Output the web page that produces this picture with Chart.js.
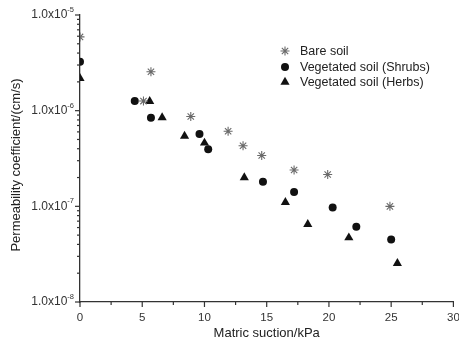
<!DOCTYPE html>
<html>
<head>
<meta charset="utf-8">
<script src="https://cdn.jsdelivr.net/npm/chart.js@4/dist/chart.umd.min.js"></script>
<style>
    body { margin: 0; background: #fff; }
    #wrap { width: 459px; height: 350px; }
</style>
</head>
<body>
<div id="wrap"><canvas id="chart" width="459" height="350"></canvas></div>
<script>
// DATA
const bareX = [0, 5.7, 5.1, 8.9, 11.9, 13.1, 14.6, 17.2, 19.9, 24.9];
const bareY = [5.9e-6, 2.55e-6, 1.26e-6, 8.7e-7, 6.1e-7, 4.3e-7, 3.4e-7, 2.4e-7, 2.15e-7, 1.0e-7];

const shrubX = [0, 4.4, 5.7, 9.6, 10.3, 14.7, 17.2, 20.3, 22.2, 25.0];
const shrubY = [3.25e-6, 1.26e-6, 8.45e-7, 5.7e-7, 3.95e-7, 1.81e-7, 1.41e-7, 9.7e-8, 6.1e-8, 4.5e-8];

const herbX = [0, 5.6, 6.6, 8.4, 10.0, 13.2, 16.5, 18.3, 21.6, 25.5];
const herbY = [2.18e-6, 1.25e-6, 8.45e-7, 5.43e-7, 4.6e-7, 2.0e-7, 1.1e-7, 6.5e-8, 4.7e-8, 2.54e-8];

const seriesNames = ['Bare soil', 'Vegetated soil (Shrubs)', 'Vegetated soil (Herbs)'];
const xTicks = [0, 5, 10, 15, 20, 25, 30];
const yDecades = [-8, -7, -6, -5];

const FONT = '"Liberation Sans", Arial, sans-serif';
const AXIS = '#333';

function toPoints(xs, ys) {
    return xs.map((x, i) => ({ x: x, y: ys[i] }));
}

const styles = [
    { pointStyle: 'star', color: '#6a6a6a', radius: 4.5, border: 1.1 },
    { pointStyle: 'circle', color: '#111', radius: 4, border: 0 },
    { pointStyle: 'triangle', color: '#111', radius: 5.3, border: 0 }
];

// TICKS, LABELS AND LEGEND
const decorPlugin = {
    id: 'decor',
    afterDraw(chart) {
        const ctx = chart.ctx;
        const xs = chart.scales.x;
        const ys = chart.scales.y;
        const area = chart.chartArea;
        ctx.save();
        ctx.strokeStyle = AXIS;
        ctx.lineWidth = 1.2;

        // x ticks
        for (let v = 0; v <= 30; v += 2.5) {
            const px = xs.getPixelForValue(v);
            const len = (v % 5 === 0) ? 5 : 3;
            ctx.beginPath();
            ctx.moveTo(px, area.bottom);
            ctx.lineTo(px, area.bottom + len);
            ctx.stroke();
        }
        ctx.fillStyle = AXIS;
        ctx.font = '11.5px ' + FONT;
        ctx.textAlign = 'center';
        ctx.textBaseline = 'middle';
        xTicks.forEach(v => {
            ctx.fillText(String(v), xs.getPixelForValue(v), area.bottom + 16);
        });

        // y ticks
        yDecades.forEach(d => {
            const base = Math.pow(10, d);
            const py = ys.getPixelForValue(base);
            ctx.beginPath();
            ctx.moveTo(area.left - 5, py);
            ctx.lineTo(area.left, py);
            ctx.stroke();
            if (d < -5) {
                for (let m = 2; m <= 9; m++) {
                    const my = ys.getPixelForValue(m * base);
                    ctx.beginPath();
                    ctx.moveTo(area.left - 3, my);
                    ctx.lineTo(area.left, my);
                    ctx.stroke();
                }
            }
            const sup = String(d);
            ctx.font = '7.5px ' + FONT;
            const supW = ctx.measureText(sup).width;
            const right = area.left - 6;
            ctx.textAlign = 'right';
            ctx.fillText(sup, right, py - 5);
            ctx.font = '12px ' + FONT;
            ctx.fillText('1.0x10', right - supW, py);
        });

        // y title
        ctx.save();
        ctx.translate(16, 165);
        ctx.rotate(-Math.PI / 2);
        ctx.font = '13px ' + FONT;
        ctx.fillStyle = '#222';
        ctx.textAlign = 'center';
        ctx.fillText('Permeability coefficient/(cm/s)', 0, 0);
        ctx.restore();

        // legend
        const lx = 285;
        const rows = [51, 67, 82];
        ctx.font = '12.5px ' + FONT;
        ctx.textAlign = 'left';
        seriesNames.forEach((name, i) => {
            const s = styles[i];
            Chart.helpers.drawPoint(ctx, {
                pointStyle: s.pointStyle,
                radius: s.radius,
                borderWidth: s.border,
                rotation: 0
            }, lx, rows[i]);
            ctx.fillStyle = '#222';
            ctx.fillText(name, 300, rows[i] + 0.5);
        });
        ctx.restore();
    }
};

// Chart.helpers.drawPoint uses ctx fill/stroke state, so wrap to set colours
const origDrawPoint = Chart.helpers.drawPoint;
Chart.helpers.drawPoint = function (ctx, opts, x, y) {
    const s = styles.find(t => t.pointStyle === opts.pointStyle);
    if (s) {
        ctx.fillStyle = s.color;
        ctx.strokeStyle = s.color;
        ctx.lineWidth = s.border || 1;
    }
    return origDrawPoint(ctx, opts, x, y);
};

const datasets = [
    toPoints(bareX, bareY),
    toPoints(shrubX, shrubY),
    toPoints(herbX, herbY)
].map((data, i) => ({
    label: seriesNames[i],
    data: data,
    showLine: false,
    pointStyle: styles[i].pointStyle,
    pointRadius: styles[i].radius,
    backgroundColor: styles[i].color,
    borderColor: styles[i].color,
    pointBorderWidth: styles[i].border
}));

const chart = new Chart(document.getElementById('chart'), {
    type: 'scatter',
    data: { datasets: datasets },
    options: {
        responsive: false,
        animation: false,
        devicePixelRatio: 1,
        layout: { padding: { top: 15, right: 3, left: 0, bottom: 0 } },
        plugins: {
            legend: { display: false },
            tooltip: { enabled: false }
        },
        scales: {
            x: {
                type: 'linear',
                min: 0,
                max: 30,
                grid: { display: false },
                border: { display: true, color: AXIS, width: 1.3 },
                ticks: { display: false, stepSize: 5 },
                title: {
                    display: true,
                    text: 'Matric suction/kPa',
                    color: '#222',
                    font: { family: FONT, size: 13 },
                    padding: { top: 0, bottom: 9 }
                },
                afterFit(scale) { scale.height = 48; }
            },
            y: {
                type: 'logarithmic',
                min: 1e-8,
                max: 1e-5,
                grid: { display: false },
                border: { display: true, color: AXIS, width: 1.3 },
                ticks: { display: false },
                title: { display: false },
                afterFit(scale) { scale.width = 80; }
            }
        }
    },
    plugins: [decorPlugin]
});
</script>
</body>
</html>
